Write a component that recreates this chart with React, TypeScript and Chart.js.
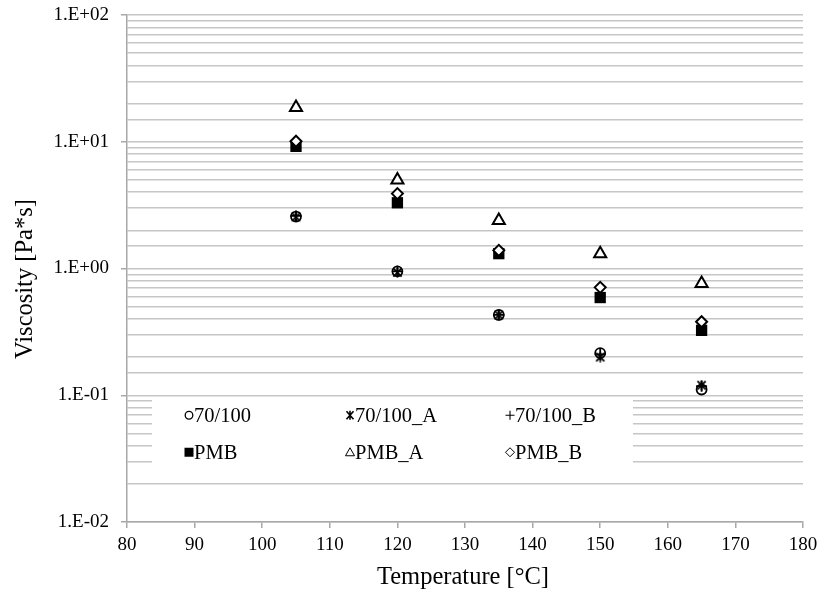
import React, { useEffect, useRef } from 'react';
import { Chart, registerables } from 'chart.js';

Chart.register(...registerables);

// Measurement temperatures [°C]
const temperatures = [105, 120, 135, 150, 165];

// Viscosity [Pa*s] per binder
const visc70_100 = [2.57, 0.95, 0.43, 0.215, 0.111];
const visc70_100_A = [2.55, 0.93, 0.43, 0.2, 0.12];
const visc70_100_B = [2.6, 0.95, 0.43, 0.21, 0.118];
const viscPMB = [9.2, 3.3, 1.31, 0.59, 0.325];
const viscPMB_A = [18.6, 5.0, 2.39, 1.31, 0.76];
const viscPMB_B = [10.1, 3.9, 1.39, 0.71, 0.38];

const seriesNames = ['70/100', '70/100_A', '70/100_B', 'PMB', 'PMB_A', 'PMB_B'];
const seriesValues = [visc70_100, visc70_100_A, visc70_100_B, viscPMB, viscPMB_A, viscPMB_B];

const xMin = 80;
const xMax = 180;
const xStep = 10;
const yMin = 0.01;
const yMax = 100;

const xTitle = 'Temperature [°C]';
const yTitle = 'Viscosity [Pa*s]';

const FONT = "'Liberation Serif', 'Times New Roman', serif";
const GRID = '#c6c6c6';
const AXIS = '#a8a8a8';

const isMajor = (v: number) => Math.abs(Math.log10(v) - Math.round(Math.log10(v))) < 1e-9;
const fmtExp = (v: number) => {
  const e = Math.round(Math.log10(v));
  const s = e < 0 ? '-' : '+';
  return `1.E${s}${String(Math.abs(e)).padStart(2, '0')}`;
};

// asterisk without the horizontal bar: an X crossed by a vertical stroke
function makeAsterisk(size: number, lw: number): HTMLCanvasElement {
  const c = document.createElement('canvas');
  c.width = size;
  c.height = size;
  const ctx = c.getContext('2d')!;
  ctx.strokeStyle = '#000';
  ctx.lineWidth = lw;
  const m = lw / 2 + 0.5;
  ctx.beginPath();
  ctx.moveTo(m, m);
  ctx.lineTo(size - m, size - m);
  ctx.moveTo(size - m, m);
  ctx.lineTo(m, size - m);
  ctx.moveTo(size / 2, 0.5);
  ctx.lineTo(size / 2, size - 0.5);
  ctx.stroke();
  return c;
}

type MarkerKind = 'circle' | 'asterisk' | 'plus' | 'square' | 'triangle' | 'diamond';
const markerKinds: MarkerKind[] = ['circle', 'asterisk', 'plus', 'square', 'triangle', 'diamond'];

function drawLegendMarker(ctx: CanvasRenderingContext2D, kind: MarkerKind, x: number, y: number) {
  ctx.save();
  ctx.strokeStyle = '#000';
  ctx.fillStyle = '#000';
  ctx.lineWidth = 1.3;
  ctx.beginPath();
  switch (kind) {
    case 'circle':
      ctx.arc(x, y, 3.8, 0, Math.PI * 2);
      ctx.stroke();
      break;
    case 'asterisk':
      ctx.lineWidth = 1.6;
      ctx.moveTo(x - 3.5, y - 4);
      ctx.lineTo(x + 3.5, y + 4);
      ctx.moveTo(x + 3.5, y - 4);
      ctx.lineTo(x - 3.5, y + 4);
      ctx.moveTo(x, y - 4.5);
      ctx.lineTo(x, y + 4.5);
      ctx.stroke();
      break;
    case 'plus':
      ctx.lineWidth = 1.1;
      ctx.moveTo(x - 4.5, y);
      ctx.lineTo(x + 4.5, y);
      ctx.moveTo(x, y - 4.5);
      ctx.lineTo(x, y + 4.5);
      ctx.stroke();
      break;
    case 'square':
      ctx.fillRect(x - 4.5, y - 4.5, 9, 9);
      break;
    case 'triangle':
      ctx.lineWidth = 1;
      ctx.moveTo(x, y - 4.5);
      ctx.lineTo(x + 4.5, y + 3.5);
      ctx.lineTo(x - 4.5, y + 3.5);
      ctx.closePath();
      ctx.stroke();
      break;
    case 'diamond':
      ctx.lineWidth = 1;
      ctx.moveTo(x, y - 4.5);
      ctx.lineTo(x + 4.5, y);
      ctx.lineTo(x, y + 4.5);
      ctx.lineTo(x - 4.5, y);
      ctx.closePath();
      ctx.stroke();
      break;
  }
  ctx.restore();
}

// boxed legend sitting inside the plot area, plus both axis titles
const overlayPlugin = {
  id: 'overlay',
  afterDatasetsDraw(chart: any) {
    const { ctx, chartArea } = chart;
    const yScale = chart.scales.y;
    const boxLeft = chartArea.left + 25;
    const boxTop = yScale.getPixelForValue(0.1) + 2;
    const boxW = 481;
    const boxH = 73;
    ctx.save();
    ctx.fillStyle = '#ffffff';
    ctx.fillRect(boxLeft, boxTop, boxW, boxH);
    ctx.font = `20.5px ${FONT}`;
    ctx.fillStyle = '#000';
    ctx.textBaseline = 'middle';
    ctx.textAlign = 'left';
    const colX = [37, 198, 358];
    const rowY = [18, 55];
    seriesNames.forEach((name, i) => {
      const col = i % 3;
      const row = Math.floor(i / 3);
      const mx = boxLeft + colX[col];
      const my = boxTop + rowY[row];
      drawLegendMarker(ctx, markerKinds[i], mx, my);
      ctx.fillText(name, mx + 5, my + 1);
    });
    ctx.restore();
  },
  afterDraw(chart: any) {
    const { ctx, chartArea } = chart;
    ctx.save();
    ctx.fillStyle = '#000';
    ctx.font = `24.5px ${FONT}`;
    ctx.textAlign = 'center';
    ctx.textBaseline = 'middle';
    ctx.fillText(xTitle, (chartArea.left + chartArea.right) / 2 - 2, 578);
    ctx.translate(26, chartArea.top + 264);
    ctx.rotate(-Math.PI / 2);
    ctx.fillText(yTitle, 0, 0);
    ctx.restore();
  },
};

export default function App() {
  const canvasRef = useRef<HTMLCanvasElement | null>(null);

  useEffect(() => {
    if (!canvasRef.current) return;
    const asterisk = makeAsterisk(11, 1.8);

    const styles = [
      { pointStyle: 'circle', pointRadius: 5, pointBorderWidth: 1.8, pointBackgroundColor: 'rgba(0,0,0,0)' },
      { pointStyle: asterisk, pointRadius: 5, pointBorderWidth: 1, pointBackgroundColor: '#000' },
      { pointStyle: 'cross', pointRadius: 5.5, pointBorderWidth: 1.8, pointBackgroundColor: '#000' },
      { pointStyle: 'rect', pointRadius: 8, pointBorderWidth: 0, pointBackgroundColor: '#000' },
      { pointStyle: 'triangle', pointRadius: 7, pointBorderWidth: 2, pointBackgroundColor: '#fff' },
      { pointStyle: 'rectRot', pointRadius: 5.5, pointBorderWidth: 2, pointBackgroundColor: '#fff' },
    ];

    const datasets = seriesNames.map((name, i) => ({
      label: name,
      data: temperatures.map((t, j) => ({ x: t, y: seriesValues[i][j] })),
      showLine: false,
      pointBorderColor: '#000',
      order: seriesNames.length - i,
      ...styles[i],
    }));

    const chart = new Chart(canvasRef.current, {
      type: 'scatter',
      data: { datasets: datasets as any },
      plugins: [overlayPlugin],
      options: {
        animation: false,
        responsive: false,
        devicePixelRatio: 1,
        layout: { padding: { top: 15, right: 26, left: 0, bottom: 0 } },
        plugins: {
          legend: { display: false },
          tooltip: { enabled: false },
        },
        scales: {
          x: {
            type: 'linear',
            min: xMin,
            max: xMax,
            afterFit: (s: any) => {
              s.height = 69;
              s.paddingLeft = 0;
              s.paddingRight = 0;
            },
            grid: {
              drawOnChartArea: false,
              drawTicks: true,
              tickLength: 6,
              color: AXIS,
              lineWidth: 1.5,
            },
            border: { color: AXIS, width: 1.5 },
            ticks: {
              stepSize: xStep,
              padding: 6,
              color: '#000',
              font: { family: FONT, size: 19 },
              maxRotation: 0,
            },
          },
          y: {
            type: 'logarithmic',
            min: yMin,
            max: yMax,
            afterFit: (s: any) => {
              s.width = 127;
              s.paddingTop = 0;
              s.paddingBottom = 0;
            },
            grid: {
              color: GRID,
              lineWidth: 1.5,
              drawTicks: true,
              tickLength: 6,
              tickColor: (c: any) => (c.tick && isMajor(c.tick.value) ? AXIS : 'rgba(0,0,0,0)'),
            },
            border: { color: AXIS, width: 1.5 },
            ticks: {
              autoSkip: false,
              padding: 12,
              color: '#000',
              font: { family: FONT, size: 19 },
              callback: (v: any) => (isMajor(Number(v)) ? fmtExp(Number(v)) : ''),
            },
          },
        },
      } as any,
    });
    return () => chart.destroy();
  }, []);

  return (
    <div style={{ position: 'fixed', left: 0, top: 0, width: 829, height: 591, background: '#fff' }}>
      <canvas ref={canvasRef} width={829} height={591} />
    </div>
  );
}
